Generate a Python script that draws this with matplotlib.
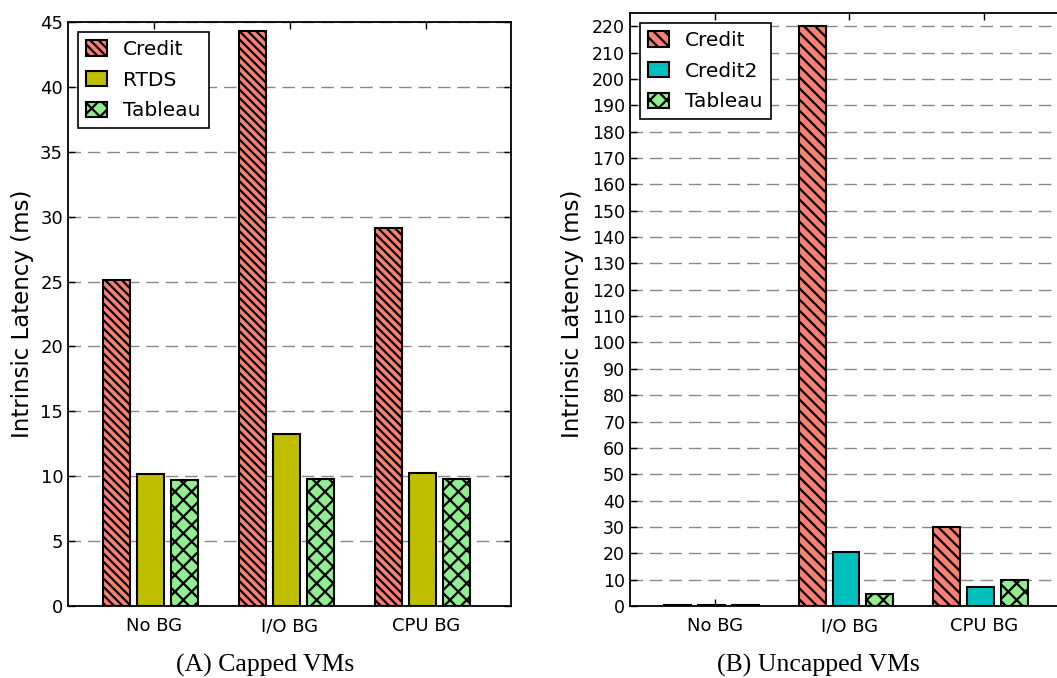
import numpy as np
import matplotlib
matplotlib.use("Agg")
import matplotlib.pyplot as plt

# ---- data ----
categories = ["No BG", "I/O BG", "CPU BG"]

capped_series = ["Credit", "RTDS", "Tableau"]
capped_credit = [25.15, 44.3, 29.1]
capped_rtds = [10.15, 13.25, 10.27]
capped_tableau = [9.68, 9.76, 9.78]

uncapped_series = ["Credit", "Credit2", "Tableau"]
uncapped_credit = [0.3, 220.0, 30.0]
uncapped_credit2 = [0.2, 20.5, 7.1]
uncapped_tableau = [0.5, 4.55, 9.86]

capped_yticks = list(range(0, 46, 5))
uncapped_yticks = list(range(0, 221, 10))

# ---- style ----
plt.rcParams["font.family"] = ["DejaVu Sans"]
plt.rcParams["hatch.linewidth"] = 1.6
plt.rcParams["xtick.direction"] = "in"
plt.rcParams["ytick.direction"] = "in"

salmon = "#fa8072"
olive = "#bfbf00"
cyan = "#00bfbf"
green = "#90ee90"

fig = plt.figure(figsize=(10.57, 6.78), dpi=100)
W, H = 1057.0, 678.0
ax1 = fig.add_axes([68 / W, 72 / H, 443 / W, 584 / H])
ax2 = fig.add_axes([630 / W, 72 / H, 438 / W, 593 / H])

bar_w = 0.2
step = 0.25
x = np.arange(len(categories))


def draw(ax, series, values, colors, hatches, yticks, ylim, tick_fs):
    for i, (name, vals, col, h) in enumerate(zip(series, values, colors, hatches)):
        ax.bar(x + (i - 1.5) * step, vals, width=bar_w, align="edge",
               color=col, edgecolor="black", linewidth=1.5, hatch=h,
               label=name, zorder=3)
    ax.set_xlim(-0.63, 2.625)
    ax.set_ylim(*ylim)
    ax.set_xticks(x)
    ax.set_xticklabels(categories, fontsize=13)
    ax.set_yticks(yticks)
    ax.tick_params(axis="y", labelsize=tick_fs, length=5, width=1,
                   left=True, right=True)
    ax.tick_params(axis="x", length=5, width=1, top=True, bottom=True, pad=8)
    ax.yaxis.grid(True, linestyle=(0, (9, 5)), color="#888888", linewidth=1)
    ax.set_axisbelow(True)
    for s in ax.spines.values():
        s.set_linewidth(1.3)


draw(ax1, capped_series, [capped_credit, capped_rtds, capped_tableau],
     [salmon, olive, green], ["\\\\\\\\", None, "xx"], capped_yticks, (0, 45), 13)
draw(ax2, uncapped_series, [uncapped_credit, uncapped_credit2, uncapped_tableau],
     [salmon, cyan, green], ["\\\\\\", None, "xx"], uncapped_yticks, (0, 225), 12.5)

for ax, anchor in ((ax1, (10 / 443, 1 - 10 / 584)), (ax2, (10 / 438, 1 - 10 / 593))):
    leg = ax.legend(loc="upper left", bbox_to_anchor=anchor, borderaxespad=0,
                    fontsize=14.5, fancybox=False, framealpha=1,
                    handlelength=1.05, handleheight=0.8, handletextpad=0.8,
                    labelspacing=0.58, borderpad=0.4)
    leg.get_frame().set_edgecolor("black")
    leg.get_frame().set_linewidth(1.2)

fig.text(23 / W, 1 - 314 / H, "Intrinsic Latency (ms)", rotation=90,
         ha="center", va="center", fontsize=16.5)
fig.text(572 / W, 1 - 314 / H, "Intrinsic Latency (ms)", rotation=90,
         ha="center", va="center", fontsize=16.5)

fig.text(265 / W, 1 - 665 / H, "(A) Capped VMs", ha="center", va="center",
         fontsize=18.5, family=["Liberation Serif", "DejaVu Serif"])
fig.text(818 / W, 1 - 665 / H, "(B) Uncapped VMs", ha="center", va="center",
         fontsize=18.5, family=["Liberation Serif", "DejaVu Serif"])

fig.savefig("out.png", dpi=100)
